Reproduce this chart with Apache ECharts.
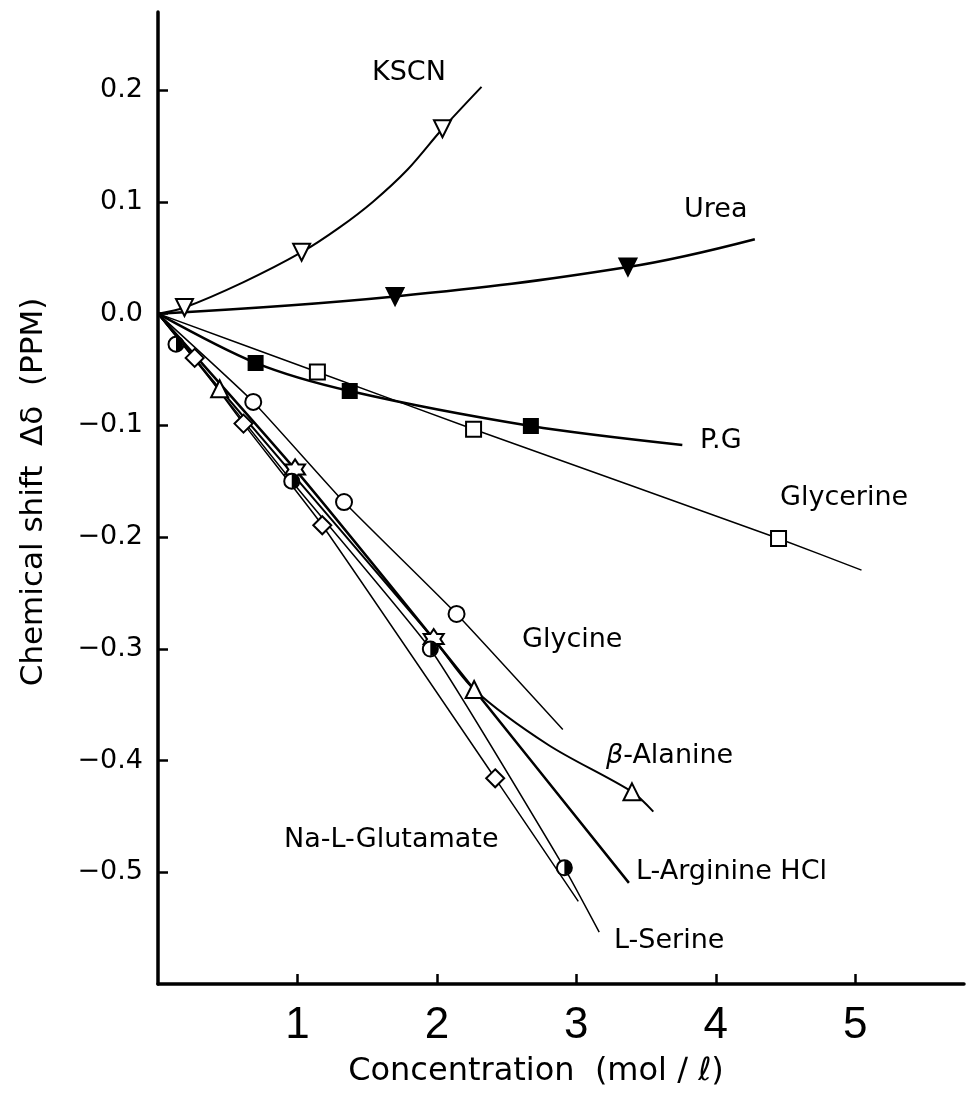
<!DOCTYPE html>
<html>
<head>
  <meta charset="utf-8">
</head>
<body style="margin: 0; background: #fff">
  <div id="container" style="width: 967px; height: 1097px"></div>

  <script src="https://cdn.jsdelivr.net/npm/echarts@6.0.0/dist/echarts.min.js"></script>
  <script>
// ticks
var xTicks = [1, 2, 3, 4, 5];
var yTicks = [-0.5, -0.4, -0.3, -0.2, -0.1, 0, 0.1, 0.2];

var kscnPts = [[0.19, 0.0055], [1.03, 0.055], [2.04, 0.1655]];
var kscnCurve = [[0, 0], [0.19, 0.0055], [0.61, 0.028], [1.03, 0.055], [1.30, 0.077], [1.54, 0.100], [1.79, 0.129], [2.04, 0.1655], [2.32, 0.203]];

var ureaPts = [[1.70, 0.0154], [3.37, 0.0417]];
var ureaCurve = [[0, 0], [1.70, 0.0154], [3.37, 0.0417], [4.28, 0.0666]];

var pgPts = [[0.70, -0.0441], [1.375, -0.0693], [2.674, -0.1006]];
var pgCurve = [[0, 0], [0.70, -0.0441], [1.375, -0.0693], [2.674, -0.1006], [3.76, -0.1176]];

var glycerinePts = [[1.143, -0.0522], [2.263, -0.1034], [4.45, -0.2012]];
var glycerineCurve = [[0, 0], [1.143, -0.0522], [2.263, -0.1034], [4.45, -0.2012], [5.045, -0.2296]];

var glycinePts = [[0.683, -0.079], [1.334, -0.1686], [2.141, -0.2688]];
var glycineCurve = [[0, 0], [0.683, -0.079], [1.334, -0.1686], [2.141, -0.2688], [2.903, -0.3722]];

var alaninePts = [[0.442, -0.0672], [2.267, -0.3364], [3.399, -0.428]];
var alanineCurve = [[0, 0], [0.442, -0.0672], [1.977, -0.2913], [2.267, -0.3364], [2.80, -0.3861], [3.399, -0.428], [3.552, -0.4457]];

var argininePts = [[0.983, -0.1394], [1.977, -0.2913]];
var arginineCurve = [[0, 0], [0.983, -0.1394], [1.977, -0.2913], [3.377, -0.5095]];

var serinePts = [[0.129, -0.0274], [0.959, -0.15], [1.953, -0.3002], [2.914, -0.496]];
var serineCurve = [[0, 0], [0.959, -0.15], [1.953, -0.3002], [2.914, -0.496], [3.164, -0.5535]];

var glutamatePts = [[0.263, -0.0396], [0.613, -0.0984], [1.178, -0.1894], [2.418, -0.4159]];
var glutamateCurve = [[0, 0], [0.263, -0.0396], [0.613, -0.0984], [1.178, -0.1894], [2.418, -0.4159], [3.014, -0.526]];

var FONT = '"DejaVu Sans", sans-serif';
var STAR = 'path://M0,-10L2.89,-5L8.66,-5L5.77,0L8.66,5L2.89,5L0,10L-2.89,5L-8.66,5L-5.77,0L-8.66,-5L-2.89,-5Z';
var HALF = 'path://M0,0A10,10 0 0,1 0,20Z';

function curve(name, data, width, smooth) {
  return {
    name: name, type: 'line', data: data, symbol: 'none',
    smooth: smooth, z: 2, silent: true,
    lineStyle: { color: '#000', width: width }
  };
}
function marks(name, data, symbol, size, filled, rotate) {
  return {
    name: name, type: 'scatter', data: data, symbol: symbol,
    symbolSize: size, symbolRotate: rotate || 0, z: 3, silent: true,
    itemStyle: { color: filled ? '#000' : '#fff', borderColor: '#000', borderWidth: 2, opacity: 1 }
  };
}
function label(text, x, y) {
  return {
    type: 'text', x: x, y: y, z: 10,
    style: { text: text, font: '27px ' + FONT, fill: '#000',
      align: 'left', verticalAlign: 'middle', textAlign: 'left', textVerticalAlign: 'middle' }
  };
}

var dom = document.getElementById('container');
var myChart = echarts.init(dom, null, { renderer: 'canvas' });

var option = {
  backgroundColor: '#fff',
  animation: false,
  grid: { left: 158, top: 12, right: 3, bottom: 113, outerBoundsMode: 'none', containLabel: false },
  xAxis: {
    type: 'value', min: 0, max: 5.78,
    axisLine: { onZero: false, lineStyle: { color: '#000', width: 3.5 } },
    axisTick: { customValues: xTicks, inside: true, length: 10, lineStyle: { color: '#000', width: 2.5 } },
    axisLabel: { customValues: xTicks, margin: 20, color: '#000', fontSize: 44, fontFamily: '"Liberation Sans", sans-serif' },
    splitLine: { show: false }
  },
  yAxis: {
    type: 'value', min: -0.6, max: 0.27,
    axisLine: { onZero: false, lineStyle: { color: '#000', width: 3.5 } },
    axisTick: { customValues: yTicks, inside: true, length: 10, lineStyle: { color: '#000', width: 2.5 } },
    axisLabel: {
      customValues: yTicks, margin: 15, color: '#000', fontSize: 27, fontFamily: FONT,
      formatter: function (v) { return (v < 0 ? '\u2212' : '') + Math.abs(v).toFixed(1); }
    },
    splitLine: { show: false }
  },
  graphic: [
    label('KSCN', 372, 73),
    label('Urea', 684, 210),
    label('P.G', 700, 441),
    label('Glycerine', 780, 498),
    label('Glycine', 522, 640),
    {
      type: 'text', x: 606, y: 756, z: 10,
      style: {
        text: '{b|\u03b2}-Alanine', font: '27px ' + FONT, fill: '#000',
        align: 'left', verticalAlign: 'middle', textAlign: 'left', textVerticalAlign: 'middle',
        rich: { b: { fontStyle: 'italic', fontSize: 27, fontFamily: FONT, fill: '#000' } }
      }
    },
    label('Na-L-Glutamate', 284, 840),
    label('L-Arginine HCl', 636, 872),
    label('L-Serine', 614, 941),
    {
      type: 'text', x: 34, y: 492, rotation: Math.PI / 2, z: 10,
      style: { text: 'Chemical shift  \u0394\u03b4  (PPM)', font: '31px ' + FONT, fill: '#000',
        align: 'center', verticalAlign: 'middle', textAlign: 'center', textVerticalAlign: 'middle' }
    },
    {
      type: 'text', x: 536, y: 1072, z: 10,
      style: { text: 'Concentration  (mol \u2215 \u2113)', font: '32px ' + FONT, fill: '#000',
        align: 'center', verticalAlign: 'middle', textAlign: 'center', textVerticalAlign: 'middle' }
    }
  ],
  series: [
    curve('KSCN', kscnCurve, 2, 0.3),
    curve('Urea', ureaCurve, 2.5, 0.4),
    curve('P.G', pgCurve, 2.5, 0.3),
    curve('Glycerine', glycerineCurve, 1.5, 0.15),
    curve('Glycine', glycineCurve, 1.5, 0.15),
    curve('beta-Alanine', alanineCurve, 2, 0.3),
    curve('L-Arginine HCl', arginineCurve, 2.5, 0.15),
    curve('L-Serine', serineCurve, 1.5, 0.15),
    curve('Na-L-Glutamate', glutamateCurve, 1.5, 0.15),
    marks('KSCN', kscnPts, 'triangle', 17, false, 180),
    marks('Urea', ureaPts, 'triangle', 17, true, 180),
    marks('P.G', pgPts, 'rect', 14, true),
    marks('Glycerine', glycerinePts, 'rect', 15, false),
    marks('Glycine', glycinePts, 'circle', 16, false),
    marks('beta-Alanine', alaninePts, 'triangle', 17, false),
    marks('L-Arginine HCl', argininePts, STAR, 20, false),
    marks('L-Serine', serinePts, 'circle', 15, false),
    {
      name: 'L-Serine', type: 'scatter', data: serinePts, symbol: HALF,
      symbolSize: [7, 14], symbolOffset: [3.5, 0], z: 4, silent: true,
      itemStyle: { color: '#000', opacity: 1 }
    },
    marks('Na-L-Glutamate', glutamatePts, 'diamond', 18, false)
  ]
};

myChart.setOption(option);
window.addEventListener('resize', myChart.resize);
  </script>
</body>
</html>
